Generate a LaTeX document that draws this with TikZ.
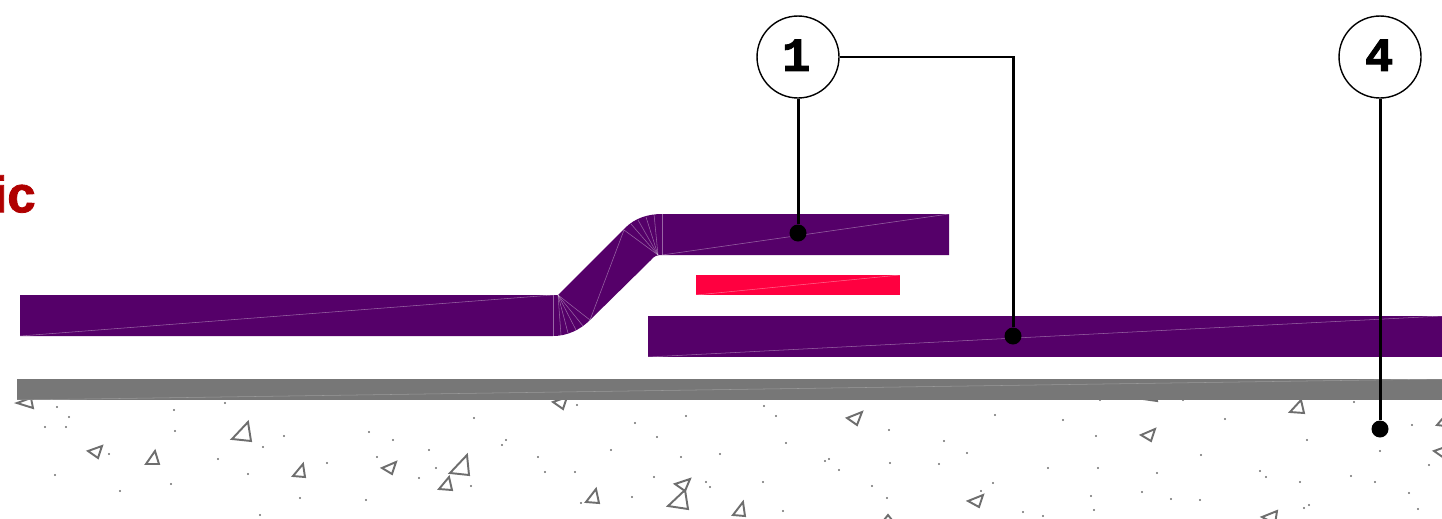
\documentclass[tikz,border=0pt]{standalone}
\usepackage{fontspec}
\setmainfont{Liberation Sans}[BoldFeatures={FakeBold=1.6}]
\newfontfamily\calloutfont{Liberation Mono}[BoldFeatures={FakeBold=1.8}]
\definecolor{membrane}{HTML}{550069}
\definecolor{strip}{HTML}{FF0040}
\definecolor{slab}{HTML}{777777}
\definecolor{aggregate}{HTML}{6E6E6E}
\definecolor{heading}{HTML}{B00000}
\tikzset{
  callout/.style={draw,circle,fill=white,line width=0.8pt,minimum size=1.64cm,inner sep=0pt,font=\calloutfont\bfseries\fontsize{27}{27}\selectfont},
  leader/.style={line width=1.7pt},
  pin/.style={circle,fill=black,minimum size=0.34cm,inner sep=0pt},
  seam/.style={white,line width=0.3pt,opacity=0.4},
  stone/.style={draw=aggregate,line width=1.1pt,line join=miter}
}
\begin{document}
\begin{tikzpicture}[x=0.02cm,y=-0.02cm]

    \useasboundingbox (0,0) rectangle (1442,518);
    \clip (0,0) rectangle (1442,518);

    %draw aggregate stones
    \draw[stone] (17,403) -- (33,408) -- (31,398) -- cycle;
    \draw[stone] (88,451) -- (102,446) -- (98,458) -- cycle;
    \draw[stone] (146,464) -- (159,464) -- (155,451) -- cycle;
    \draw[stone] (232,439) -- (251,441) -- (248,422) -- cycle;
    \draw[stone] (293,476) -- (305,477) -- (303,464) -- cycle;
    \draw[stone] (382,468) -- (396,462) -- (392,474) -- cycle;
    \draw[stone] (450,473) -- (469,475) -- (467,455) -- cycle;
    \draw[stone] (439,489) -- (452,490) -- (449,477) -- cycle;
    \draw[stone] (553,402) -- (567,397) -- (563,409) -- cycle;
    \draw[stone] (847,418) -- (862,412) -- (857,425) -- cycle;
    \draw[stone] (675,484) -- (690,479) -- (685,491) -- cycle;
    \draw[stone] (668,506) -- (688,509) -- (685,490) -- cycle;
    \draw[stone] (586,502) -- (599,503) -- (596,489) -- cycle;
    \draw[stone] (733,515) -- (745,516) -- (743,502) -- cycle;
    \draw[stone] (968,501) -- (983,495) -- (979,507) -- cycle;
    \draw[stone] (884,520) -- (892,520) -- (888,515) -- cycle;
    \draw[stone] (1141,435) -- (1155,429) -- (1151,441) -- cycle;
    \draw[stone] (1290,412) -- (1304,413) -- (1301,400) -- cycle;
    \draw[stone] (1143,399) -- (1157,401) -- (1156,397) -- cycle;
    \draw[stone] (1437,425) -- (1445,426) -- (1443,418) -- cycle;
    \draw[stone] (1434,451) -- (1448,446) -- (1444,458) -- cycle;
    \draw[stone] (1262,517) -- (1277,511) -- (1275,524) -- cycle;

    %draw sand grains
    \foreach \x/\y in {57/407,69/417,45/427,66/427,174/410,175/431,225/403,284/436,263/447,218/459,
      248/474,109/454,55/475,120/491,171/484,300/498,327/463,260/515,369/432,393/440,377/457,429/450,
      436/468,419/478,474/418,471/486,366/500,
      577/405,635/423,686/416,657/437,506/440,502/445,538/457,611/450,681/457,720/454,545/472,575/472,
      654/477,632/497,581/503,706/482,710/487,763/482,783/511,764/406,776/416,786/443,825/461,829/459,
      839/470,889/430,890/463,872/486,887/498,944/441,967/453,939/464,993/483,981/491,995/415,
      1100/400,1183/400,1354/402,1063/420,1096/436,1225/419,1412/425,1307/440,1201/455,1380/451,
      1048/468,1098/468,1157/473,1260/471,1266/477,1300/482,1351/476,1375/482,1429/465,1091/496,
      1142/492,1171/499,1200/500,1094/510,1023/512,1043/516,1304/508,1309/505,1409/493,1418/509}
      \fill[aggregate] (\x,\y) circle (0.024cm);

    %draw slab
    \fill[slab] (17,379) rectangle (1442,400);
    \draw[seam,opacity=0.25] (17,400) -- (1442,379);

    %draw membrane sheets
    \fill[membrane] (20,295) -- (558,295) -- (625,228)
      .. controls (635,218) and (648,214) .. (662,214) -- (949,214) -- (949,255) -- (662,255)
      .. controls (657,255) and (654,256) .. (651,260) -- (590,320)
      .. controls (580,330) and (567,336) .. (553,336) -- (20,336) -- cycle;
    \fill[membrane] (648,316) rectangle (1442,357);

    %draw membrane seams
    \draw[seam] (20,336) -- (553,295);
    \draw[seam] (553,295) -- (553,336);
    \foreach \x/\y in {561/335,568/333,576/330,583/326,590/320}
      \draw[seam] (558,295) -- (\x,\y);
    \draw[seam] (590,320) -- (624,230);
    \foreach \x/\y in {624/230,631/224,638/220,646/217,654/214}
      \draw[seam] (658,255) -- (\x,\y);
    \draw[seam] (662,214) -- (662,255);
    \draw[seam] (662,255) -- (949,214);
    \draw[seam] (648,357) -- (1442,316);

    %draw red strip
    \fill[strip] (696,275) rectangle (900,295);
    \draw[seam] (696,295) -- (900,275);

    %draw heading
    \draw (36,194) node[anchor=east,inner sep=0pt,text=heading,font=\bfseries\fontsize{29}{29}\selectfont] (headingtext) {ic};

    %draw pins
    \draw (798,233) node[pin] (pinone) {};
    \draw (1013,336) node[pin] (pintwo) {};
    \draw (1380,429) node[pin] (pinfour) {};

    %draw callouts
    \draw (798,57) node[callout] (calloutone) {\raisebox{2pt}{\kern-2pt 1}};
    \draw (1380,57) node[callout] (calloutfour) {\raisebox{2pt}{\kern-1pt 4}};

    %draw leaders
    \draw[leader] (calloutone) -- (pinone);
    \draw[leader] (calloutone) -| (pintwo);
    \draw[leader] (calloutfour) -- (pinfour);

\end{tikzpicture}
\end{document}
